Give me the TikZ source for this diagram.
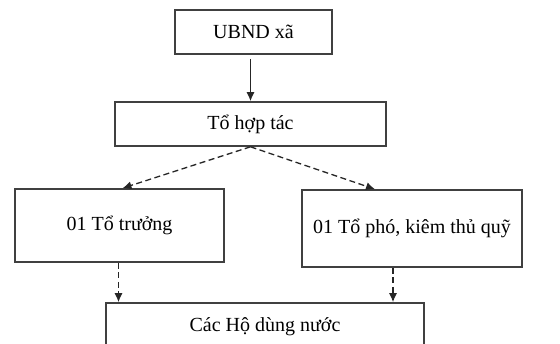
\documentclass[tikz,border=0pt]{standalone}
\usepackage{fontspec}
\setmainfont{Liberation Serif}
\usepackage{tikz}
\usetikzlibrary{positioning, arrows.meta, calc}
\tikzset{
    x=1pt, y=-1pt, % pixel units, y going down
    box/.style={ % every rectangle of the chart
        draw=black!75,
        line width=1.6pt,
        rectangle,
        inner sep=0pt,
        font=\fontsize{20}{24}\selectfont
    },
    solidarr/.style={ % plain arrow
        draw=black!85,
        -{Latex[length=9pt,width=8pt]},
        line width=1.3pt
    },
    dasharr/.style={ % dashed arrow
        solidarr,
        dash pattern=on 6pt off 3.5pt
    },
}

\begin{document}
\begin{tikzpicture}
            \useasboundingbox (0,0) rectangle (560,343);
            \node[box, minimum width=157pt, minimum height=44pt]   (ubnd)    at (253.5,32)  {UBND xã};
            \node[box, minimum width=271pt, minimum height=44pt]   (tohop)   at (250.5,124) {Tổ hợp tác};
            \node[box, minimum width=209pt, minimum height=73pt]   (truong)  at (119.5,225.5) {01 Tổ trưởng};
            \node[box, minimum width=220pt, minimum height=77pt]   (pho)     at (412,228.5) {01 Tổ phó, kiêm thủ quỹ};
            \node[box, minimum width=318pt, minimum height=48pt]   (hodung)  at (265,327)   {Các Hộ dùng nước};
            \coordinate (phoin)  at ([xshift=-37pt]pho.north);
            \coordinate (phoout) at ([xshift=-19pt]pho.south);
            \draw[solidarr] ([yshift=-4pt]ubnd.south -| tohop.north) -- (tohop.north);
            \draw[dasharr]  (tohop.south) -- ([xshift=3pt]truong.north);
            \draw[dasharr]  (tohop.south) -- (phoin);
            \draw[dasharr]  ([xshift=-1pt]truong.south) -- ([xshift=-1pt]truong.south |- hodung.north);
            \draw[dasharr]  (phoout) -- (phoout |- hodung.north);
        \end{tikzpicture}
\end{document}
